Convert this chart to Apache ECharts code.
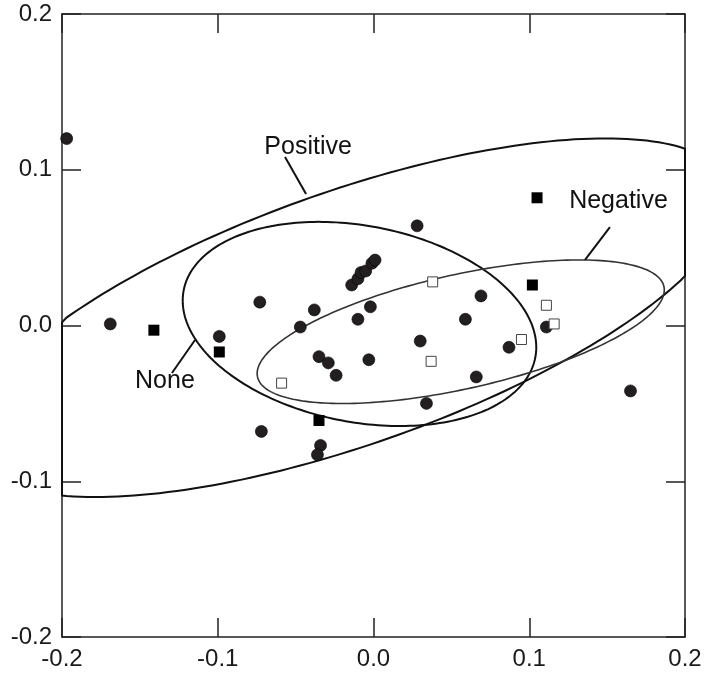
<!DOCTYPE html>
<html>
<head>
<meta charset="utf-8">
<title>Ellipses</title>
<style>
  html, body { margin: 0; padding: 0; background: #fff; }
  #chart { width: 705px; height: 675px; }
</style>
<script src="https://cdn.jsdelivr.net/npm/echarts@6/dist/echarts.min.js"></script>
</head>
<body>
<div id="chart"></div>
<script>
(function() {
  'use strict';

  var FONT = "'Liberation Sans', Arial, sans-serif";

  // axis range / ticks (same for x and y)
  var AXIS_MIN = -0.2;
  var AXIS_MAX = 0.2;
  var AXIS_STEP = 0.1;

  // filled circles [x, y]
  var circles = [
    [-0.197, 0.120], [-0.169, 0.001], [-0.099, -0.007], [-0.073, 0.015],
    [-0.047, -0.001], [-0.038, 0.010], [-0.014, 0.026], [-0.010, 0.030],
    [-0.008, 0.034], [-0.005, 0.035], [-0.001, 0.040], [0.001, 0.042],
    [-0.002, 0.012], [-0.010, 0.004], [0.028, 0.064], [0.059, 0.004],
    [0.069, 0.019], [0.030, -0.010], [-0.035, -0.020], [-0.029, -0.024],
    [-0.024, -0.032], [-0.003, -0.022], [0.034, -0.050], [-0.072, -0.068],
    [-0.034, -0.077], [-0.036, -0.083], [0.087, -0.014], [0.111, -0.001],
    [0.066, -0.033], [0.165, -0.042]
  ];

  // filled squares [x, y]
  var filledSquares = [
    [-0.141, -0.003], [-0.099, -0.017], [-0.035, -0.061], [0.102, 0.026], [0.105, 0.082]
  ];

  // open squares [x, y]
  var openSquares = [
    [0.038, 0.028], [0.037, -0.023], [-0.059, -0.037], [0.111, 0.013],
    [0.116, 0.001], [0.095, -0.009]
  ];

  // ellipses: centre + two conjugate half-diameters [cx, cy, ux, uy, vx, vy]
  var ellipseNames = ['Positive', 'None', 'Negative'];
  var ellipseParams = [
    [-0.015, 0.005, 0.245, 0.077, 0, 0.0856],
    [-0.009, 0.001, 0.1135, -0.015, 0, 0.0638],
    [0.056, -0.004, 0.1307, 0.0268, 0, 0.0375]
  ];

  // label text position and leader line [textX, textY, x1, y1, x2, y2]
  var labelSpots = [
    [-0.042, 0.1145, -0.0568, 0.1082, -0.0433, 0.0844],
    [-0.1339, -0.0358, -0.1294, -0.0305, -0.1146, -0.0093],
    [0.1573, 0.0800, 0.1518, 0.0632, 0.1358, 0.0421]
  ];

  var lineWidths = [2, 2, 1.6];
  var lineColors = ['#111', '#111', '#333'];

  var chart = echarts.init(document.getElementById('chart'));

  function axisBase(pos, showLabel) {
    var vertical = pos === 'left' || pos === 'right';
    return {
      type: 'value',
      position: pos,
      min: AXIS_MIN,
      max: AXIS_MAX,
      interval: AXIS_STEP,
      axisLine: { show: true, onZero: false, lineStyle: { color: '#222', width: 1.5 } },
      axisTick: { show: true, inside: true, length: 19, lineStyle: { color: '#222', width: 1.5 } },
      splitLine: { show: false },
      axisLabel: {
        show: showLabel,
        margin: 10,
        padding: vertical ? [7, 0, 0, 0] : 0,
        color: '#1a1a1a',
        fontFamily: FONT,
        fontSize: 24,
        formatter: function(v) { return v.toFixed(1); }
      }
    };
  }

  // keep the outline inside the frame, like the original plot does
  function clampAxis(v) {
    return Math.max(AXIS_MIN, Math.min(AXIS_MAX, v));
  }

  function renderEllipse(params, api) {
    var cx = api.value(0), cy = api.value(1);
    var ux = api.value(2), uy = api.value(3);
    var vx = api.value(4), vy = api.value(5);
    var pts = [];
    var n = 240;
    for (var i = 0; i <= n; i++) {
      var t = Math.PI * 2 * i / n;
      var c = Math.cos(t), s = Math.sin(t);
      pts.push(api.coord([
        clampAxis(cx + ux * c + vx * s),
        clampAxis(cy + uy * c + vy * s)
      ]));
    }
    return {
      type: 'polyline',
      shape: { points: pts },
      style: { stroke: lineColors[params.dataIndex], lineWidth: lineWidths[params.dataIndex], fill: 'none' }
    };
  }

  function renderLabel(params, api) {
    var p = api.coord([api.value(0), api.value(1)]);
    var a = api.coord([api.value(2), api.value(3)]);
    var b = api.coord([api.value(4), api.value(5)]);
    return {
      type: 'group',
      children: [
        {
          type: 'line',
          shape: { x1: a[0], y1: a[1], x2: b[0], y2: b[1] },
          style: { stroke: '#111', lineWidth: 2 }
        },
        {
          type: 'text',
          x: p[0],
          y: p[1],
          style: {
            text: ellipseNames[params.dataIndex],
            fill: '#111',
            font: '25px ' + FONT,
            align: 'center',
            verticalAlign: 'middle'
          }
        }
      ]
    };
  }

  chart.setOption({
    backgroundColor: '#fff',
    animation: false,
    grid: { left: 62, top: 14, right: 20, bottom: 38, containLabel: false },
    xAxis: [axisBase('bottom', true), axisBase('top', false)],
    yAxis: [axisBase('left', true), axisBase('right', false)],
    series: [
      {
        type: 'custom',
        name: 'ellipses',
        renderItem: renderEllipse,
        data: ellipseParams,
        silent: true,
        z: 1
      },
      {
        type: 'custom',
        name: 'labels',
        renderItem: renderLabel,
        data: labelSpots,
        silent: true,
        z: 1
      },
      {
        type: 'scatter',
        name: 'circles',
        symbol: 'circle',
        symbolSize: 12,
        data: circles,
        itemStyle: { color: '#231f20', borderColor: '#000', borderWidth: 0.6, opacity: 1 },
        z: 3
      },
      {
        type: 'scatter',
        name: 'filled squares',
        symbol: 'rect',
        symbolSize: 11,
        data: filledSquares,
        itemStyle: { color: '#000', opacity: 1 },
        z: 3
      },
      {
        type: 'scatter',
        name: 'open squares',
        symbol: 'rect',
        symbolSize: 10,
        data: openSquares,
        itemStyle: { color: '#fff', borderColor: '#444', borderWidth: 1, opacity: 1 },
        z: 3
      }
    ]
  });

  window.addEventListener('resize', function() { chart.resize(); });
})();
</script>
</body>
</html>
